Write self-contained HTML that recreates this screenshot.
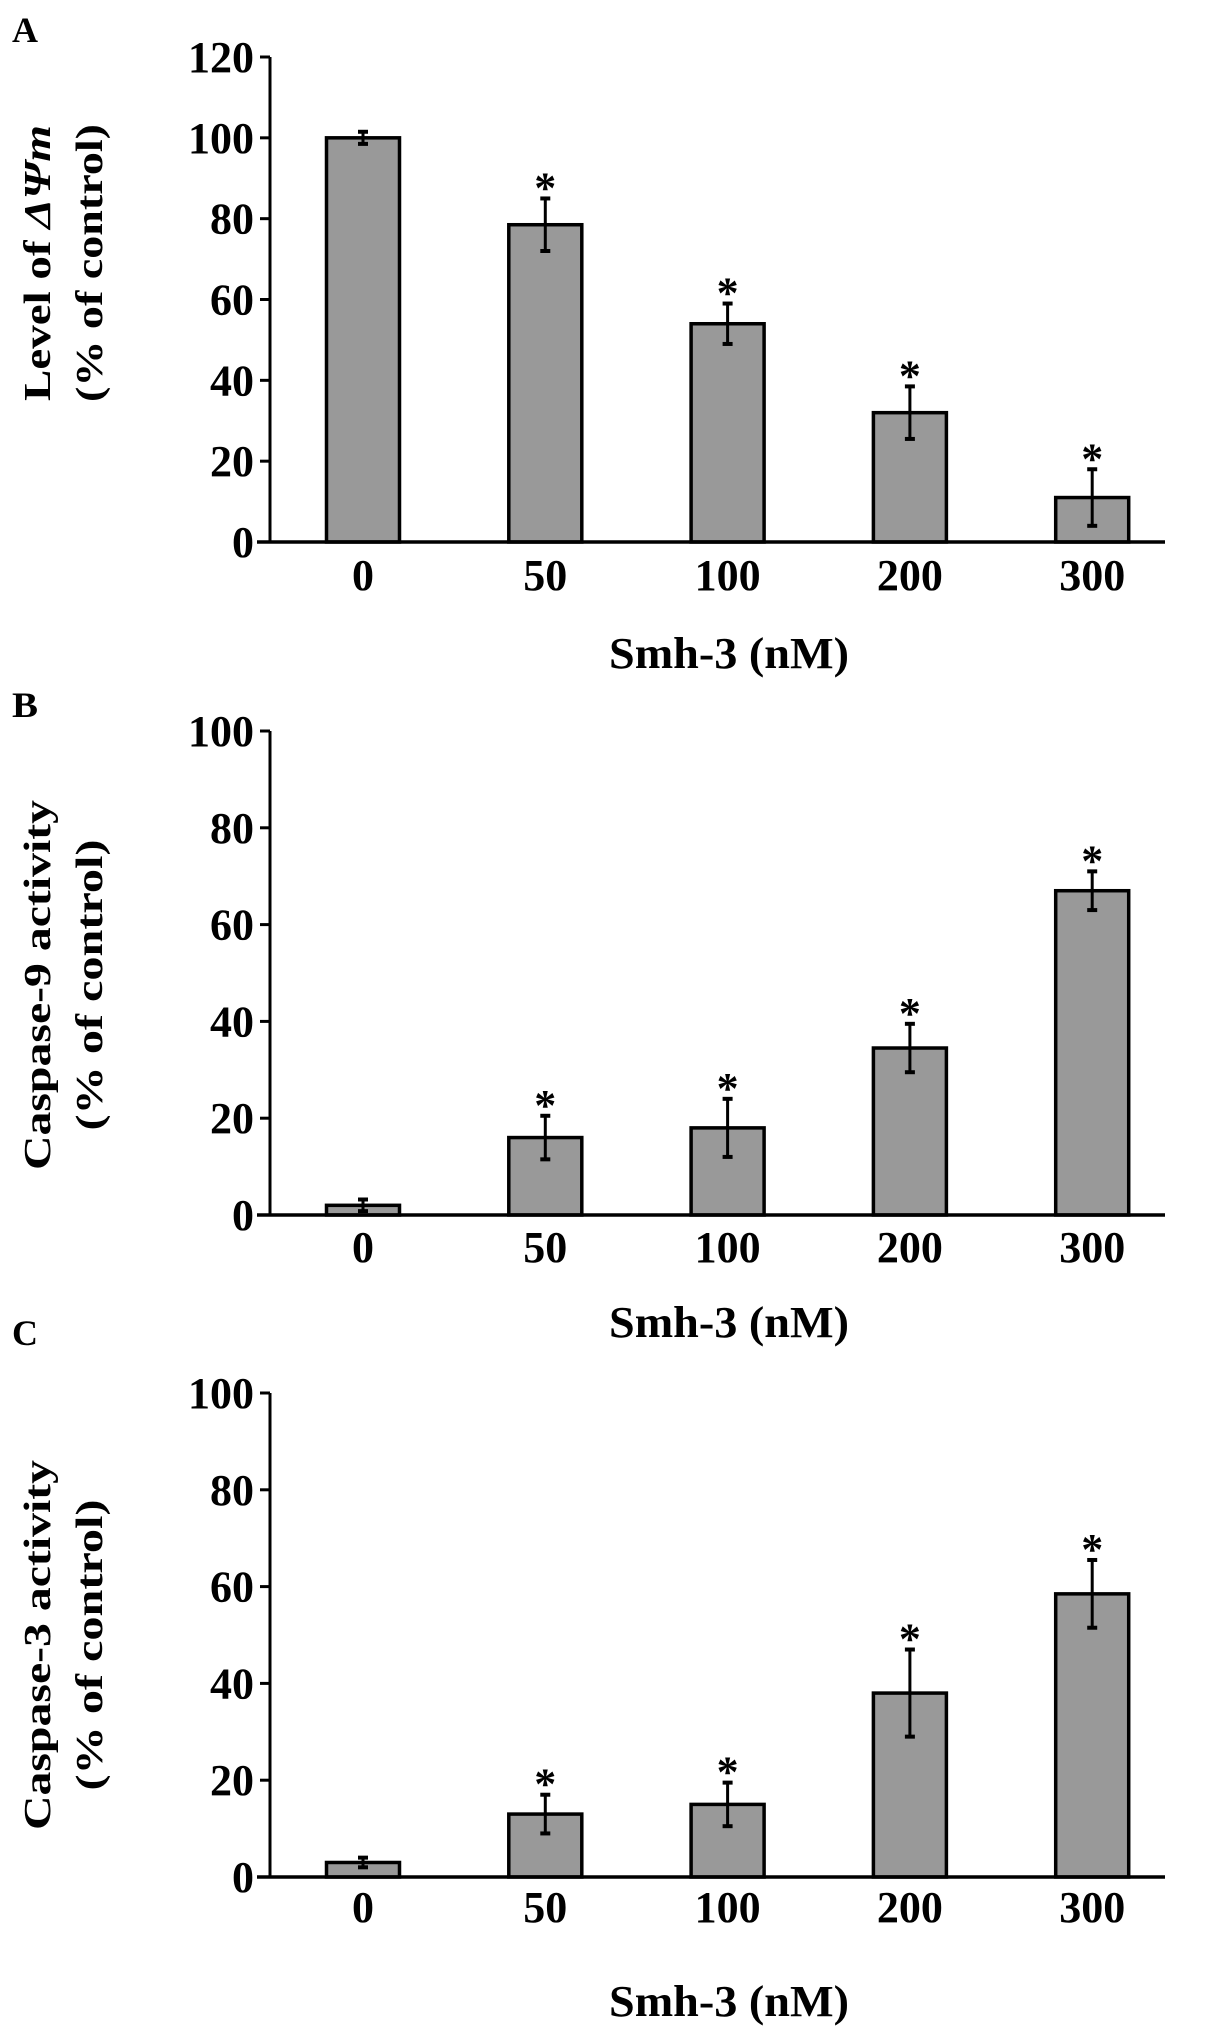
<!DOCTYPE html>
<html><head><meta charset="utf-8"><style>
html,body{margin:0;padding:0;background:#fff;}
svg{display:block;}
text{font-family:"Liberation Serif",serif;font-weight:bold;fill:#000;}
</style></head>
<body>
<svg id="fig" width="1205" height="2026" viewBox="0 0 1205 2026"></svg>
<script>
const categories = ["0","50","100","200","300"];
const valuesA = [100, 78.5, 54, 32, 11];
const errorsA = [1.5, 6.5, 5, 6.5, 7];
const valuesB = [2, 16, 18, 34.5, 67];
const errorsB = [1.2, 4.5, 6, 5, 4];
const valuesC = [3, 13, 15, 38, 58.5];
const errorsC = [1, 4, 4.5, 9, 7];
const starsFlag = [false, true, true, true, true];
const ticksA = [0,20,40,60,80,100,120];
const ticksB = [0,20,40,60,80,100];
const ticksC = [0,20,40,60,80,100];

const NS = "http://www.w3.org/2000/svg";
const svg = document.getElementById("fig");
function mk(tag, attrs, parent){
  const e = document.createElementNS(NS, tag);
  for (const k in attrs) e.setAttribute(k, attrs[k]);
  (parent||svg).appendChild(e);
  return e;
}
const axisX = 270, xStart = 257, xEnd = 1165;
const centers0 = 363, step = 182.3, barW = 73;
const digitW = 22;

function panel(id, letter, letterY, yTop, yZero, maxV, ticks, vals, errs, label1, label2, len1, len2, labelCy, tickLabelY, titleY){
  const g = mk("g", {});
  
  
  const y = v => yZero - (v / maxV) * (yZero - yTop);
  const x = i => centers0 + i * step;

  const pl = mk("text", {x: 12, y: letterY, "font-size": 36, textLength: 26, lengthAdjust: "spacingAndGlyphs"}, g);
  pl.textContent = letter;
  
  

  vals.forEach((v, i) => {
    const r = mk("rect", {x: x(i) - barW/2, y: y(v), width: barW, height: yZero - y(v), fill: "#999999", stroke: "#000", "stroke-width": 3.5}, g);
    
    
    const e = errs[i];
    const eb = mk("g", {stroke: "#000", "stroke-width": 3}, g);
    
    
    mk("line", {x1: x(i), x2: x(i), y1: y(v + e), y2: y(v - e)}, eb);
    mk("line", {x1: x(i) - 5, x2: x(i) + 5, y1: y(v + e), y2: y(v + e), "stroke-width": 4}, eb);
    mk("line", {x1: x(i) - 5, x2: x(i) + 5, y1: y(v - e), y2: y(v - e), "stroke-width": 4}, eb);
    if (starsFlag[i]) {
      const s = mk("text", {x: x(i), y: y(v + e) + 4, "font-size": 44, "text-anchor": "middle", "font-weight": "normal"}, g);
      s.textContent = "*";
      
      
    }
  });

  const ya = mk("line", {x1: axisX, x2: axisX, y1: yTop, y2: yZero, stroke: "#000", "stroke-width": 3}, g);
  
  
  const xa = mk("line", {x1: xStart, x2: xEnd, y1: yZero, y2: yZero, stroke: "#000", "stroke-width": 3.5}, g);
  
  
  ticks.forEach(t => {
    mk("line", {x1: axisX - 10, x2: axisX, y1: y(t), y2: y(t), stroke: "#000", "stroke-width": 3}, g);
    const s = String(t);
    const tl = mk("text", {x: axisX - 16, y: y(t) + 15, "font-size": 44, "text-anchor": "end", textLength: digitW * s.length, lengthAdjust: "spacingAndGlyphs"}, g);
    tl.textContent = s;
    
    
  });
  categories.forEach((c, i) => {
    const tl = mk("text", {x: x(i), y: tickLabelY, "font-size": 44, "text-anchor": "middle", textLength: digitW * c.length, lengthAdjust: "spacingAndGlyphs"}, g);
    tl.textContent = c;
    
    
  });
  const xt = mk("text", {x: 729, y: titleY, "font-size": 44, "text-anchor": "middle", textLength: 240, lengthAdjust: "spacingAndGlyphs"}, g);
  xt.textContent = "Smh-3 (nM)";
  
  

  const yt = mk("text", {transform: "translate(0," + labelCy + ") rotate(-90)", "font-size": 38, "text-anchor": "middle"}, g);
  
  
  const t1 = mk("tspan", {x: 0, y: 50, textLength: len1, lengthAdjust: "spacingAndGlyphs"}, yt);
  if (Array.isArray(label1)) {
    t1.textContent = label1[0];
    const it = mk("tspan", {"font-style": "italic"}, t1);
    it.textContent = label1[1];
  } else t1.textContent = label1;
  const t2 = mk("tspan", {x: 0, y: 102, textLength: len2, lengthAdjust: "spacingAndGlyphs"}, yt);
  t2.textContent = label2;
}

panel("a", "A", 42, 57, 542, 120, ticksA, valuesA, errorsA, ["Level of ", "ΔΨm"], "(% of control)", 276, 278, 263, 590, 668);
panel("b", "B", 717, 731, 1215, 100, ticksB, valuesB, errorsB, "Caspase-9 activity", "(% of control)", 370, 291, 985, 1262, 1337);
panel("c", "C", 1345, 1393, 1877, 100, ticksC, valuesC, errorsC, "Caspase-3 activity", "(% of control)", 370, 291, 1645, 1922, 2016);
</script>
</body></html>
